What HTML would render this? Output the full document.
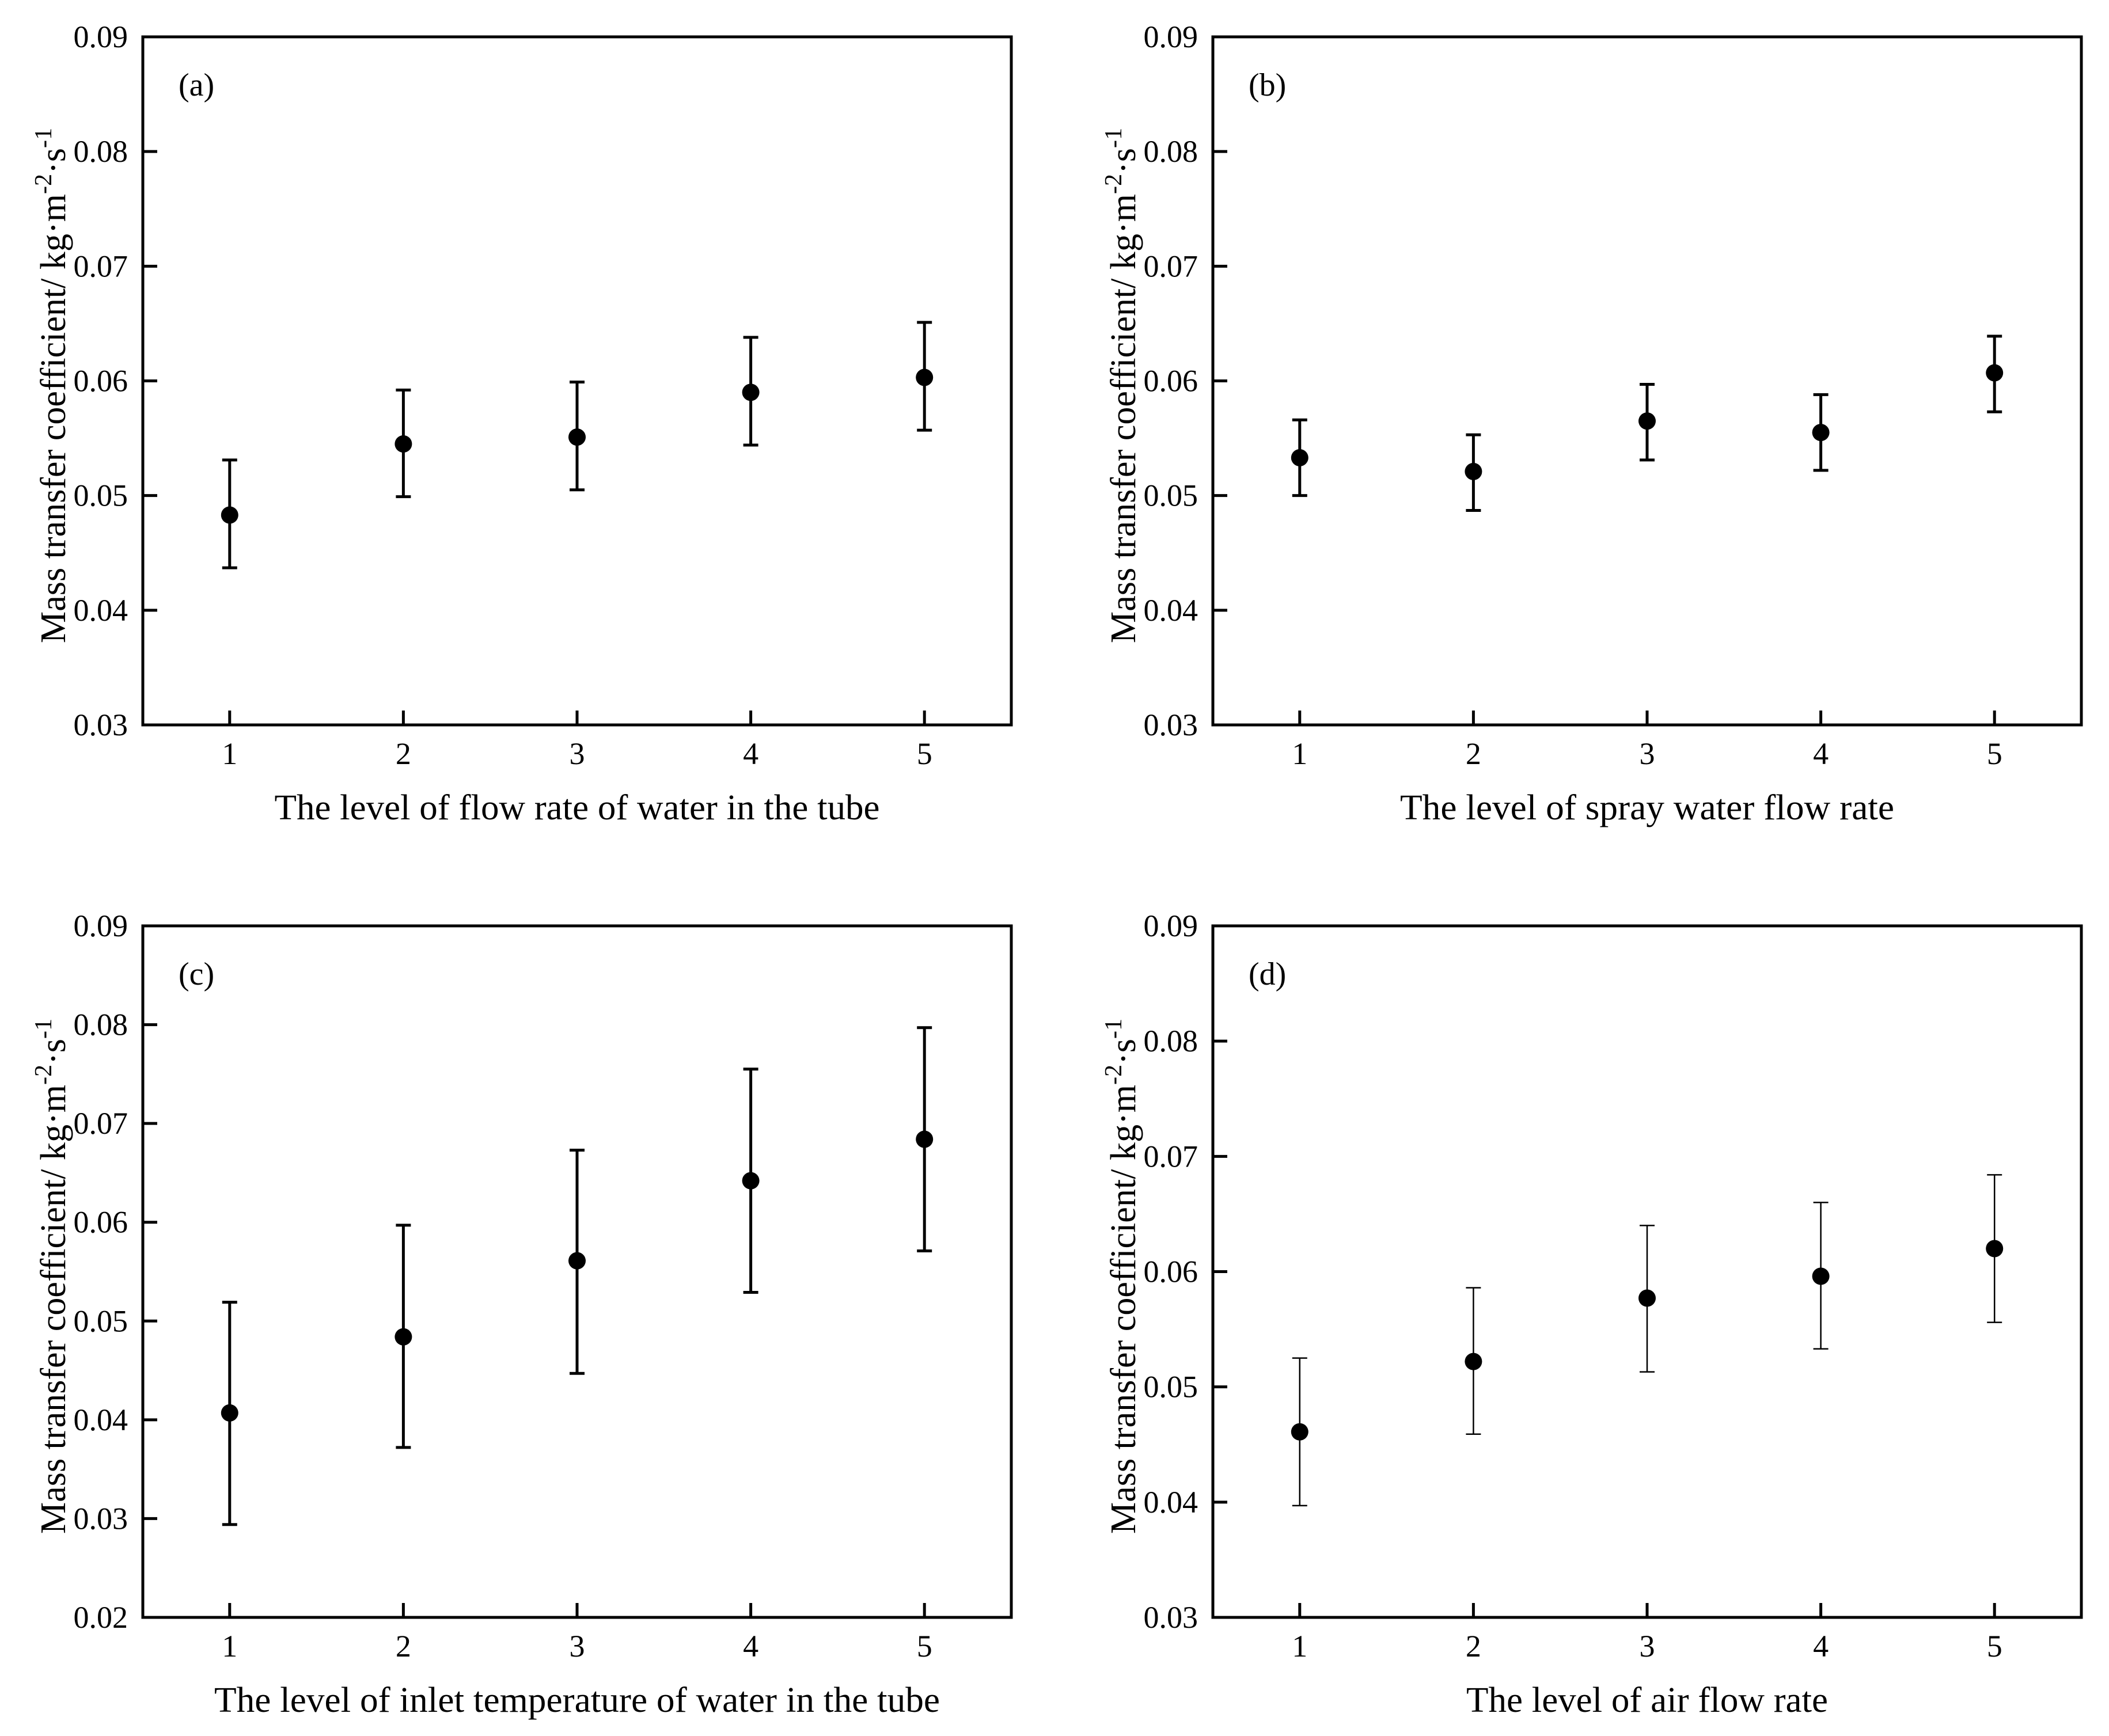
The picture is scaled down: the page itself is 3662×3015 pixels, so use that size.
<!DOCTYPE html>
<html><head><meta charset="utf-8"><style>
html,body{margin:0;padding:0;background:#fff}
svg{display:block}
text{font-family:"Liberation Serif",serif;fill:#000}
</style></head><body>
<svg id="fig" width="3662" height="3015" viewBox="0 0 3662 3015" xmlns="http://www.w3.org/2000/svg"></svg>
<script>
const levels = [1, 2, 3, 4, 5];
const aMean = [0.0483, 0.0545, 0.0551, 0.0590, 0.0603];
const aHi   = [0.0531, 0.0592, 0.0599, 0.0638, 0.0651];
const aLo   = [0.0437, 0.0499, 0.0505, 0.0544, 0.0557];
const bMean = [0.0533, 0.0521, 0.0565, 0.0555, 0.0607];
const bHi   = [0.0566, 0.0553, 0.0597, 0.0588, 0.0639];
const bLo   = [0.0500, 0.0487, 0.0531, 0.0522, 0.0573];
const cMean = [0.0407, 0.0484, 0.0561, 0.0642, 0.0684];
const cHi   = [0.0519, 0.0597, 0.0673, 0.0755, 0.0797];
const cLo   = [0.0294, 0.0372, 0.0447, 0.0529, 0.0571];
const dMean = [0.0461, 0.0522, 0.0577, 0.0596, 0.0620];
const dHi   = [0.0525, 0.0586, 0.0640, 0.0660, 0.0684];
const dLo   = [0.0397, 0.0459, 0.0513, 0.0533, 0.0556];
const yTicksABD = [0.03, 0.04, 0.05, 0.06, 0.07, 0.08, 0.09];
const yTicksC = [0.02, 0.03, 0.04, 0.05, 0.06, 0.07, 0.08, 0.09];
const xTitles = ["The level of flow rate of water in the tube","The level of spray water flow rate","The level of inlet temperature of water in the tube","The level of air flow rate"];
const panelLabels = ["(a)","(b)","(c)","(d)"];

const NS = "http://www.w3.org/2000/svg";
const svg = document.getElementById('fig');
function mk(tag, attrs, parent){const e=document.createElementNS(NS,tag);for(const k in attrs)e.setAttribute(k,attrs[k]);(parent||svg).appendChild(e);return e;}

const panels = [
 {L:248,R:1756,T:64,B:1259,ymin:0.03,ymax:0.09,ticks:yTicksABD,m:aMean,hi:aHi,lo:aLo,ew:5,tw:1051,name:'panel-a'},
 {L:2106,R:3614,T:64,B:1259,ymin:0.03,ymax:0.09,ticks:yTicksABD,m:bMean,hi:bHi,lo:bLo,ew:5,tw:858,name:'panel-b'},
 {L:248,R:1756,T:1608,B:2809,ymin:0.02,ymax:0.09,ticks:yTicksC,m:cMean,hi:cHi,lo:cLo,ew:5,tw:1260,name:'panel-c'},
 {L:2106,R:3614,T:1608,B:2809,ymin:0.03,ymax:0.09,ticks:yTicksABD,m:dMean,hi:dHi,lo:dLo,ew:2.5,tw:628,name:'panel-d'}
];

panels.forEach((p,i)=>{
  const g=mk('g',{});
  
  
  const xs=v=>p.L+(v-0.5)/5*(p.R-p.L);
  const ys=v=>p.B-(v-p.ymin)/(p.ymax-p.ymin)*(p.B-p.T);
  const frame=mk('rect',{x:p.L,y:p.T,width:p.R-p.L,height:p.B-p.T,fill:'none',stroke:'#000','stroke-width':5},g);
  
  
  p.ticks.forEach(t=>{
    const y=ys(t);
    mk('line',{x1:p.L,x2:p.L+25,y1:y,y2:y,stroke:'#000','stroke-width':5},g);
    const tl=mk('text',{x:p.L-26,y:y+18,'text-anchor':'end','font-size':54},g);
    tl.textContent=t.toFixed(2);
    
    
  });
  levels.forEach(lv=>{
    const x=xs(lv);
    mk('line',{x1:x,x2:x,y1:p.B,y2:p.B-25,stroke:'#000','stroke-width':5},g);
    const tl=mk('text',{x:x,y:p.B+68,'text-anchor':'middle','font-size':54},g);
    tl.textContent=String(lv);
    
    
  });
  levels.forEach((lv,j)=>{
    const x=xs(lv), yh=ys(p.hi[j]), yl=ys(p.lo[j]), ym=ys(p.m[j]);
    const eb=mk('path',{d:`M${x},${yh}V${yl}M${x-13},${yh}H${x+13}M${x-13},${yl}H${x+13}`,stroke:'#000','stroke-width':p.ew,fill:'none'},g);
    
    
    const c=mk('circle',{cx:x,cy:ym,r:15,fill:'#000'},g);
    
    
  });
  const lab=mk('text',{x:p.L+62,y:p.T+102,'font-size':56},g);
  lab.textContent=panelLabels[i];
  
  
  const xt=mk('text',{x:(p.L+p.R)/2,y:p.B+164,'text-anchor':'middle','font-size':62,textLength:p.tw,lengthAdjust:'spacingAndGlyphs'},g);
  xt.textContent=xTitles[i];
  
  
  const cy=(p.T+p.B)/2+8;
  const yt=mk('text',{transform:`translate(${p.L-135},${cy}) rotate(-90)`,'text-anchor':'middle','font-size':62,textLength:895,lengthAdjust:'spacingAndGlyphs'},g);
  
  
  yt.appendChild(document.createTextNode('Mass transfer coefficient/ kg·m'));
  const s1=mk('tspan',{dy:-24,'font-size':42},yt); s1.textContent='-2';
  const s2=mk('tspan',{dy:24},yt); s2.textContent='·s';
  const s3=mk('tspan',{dy:-24,'font-size':42},yt); s3.textContent='-1';
});
</script>
</body></html>
